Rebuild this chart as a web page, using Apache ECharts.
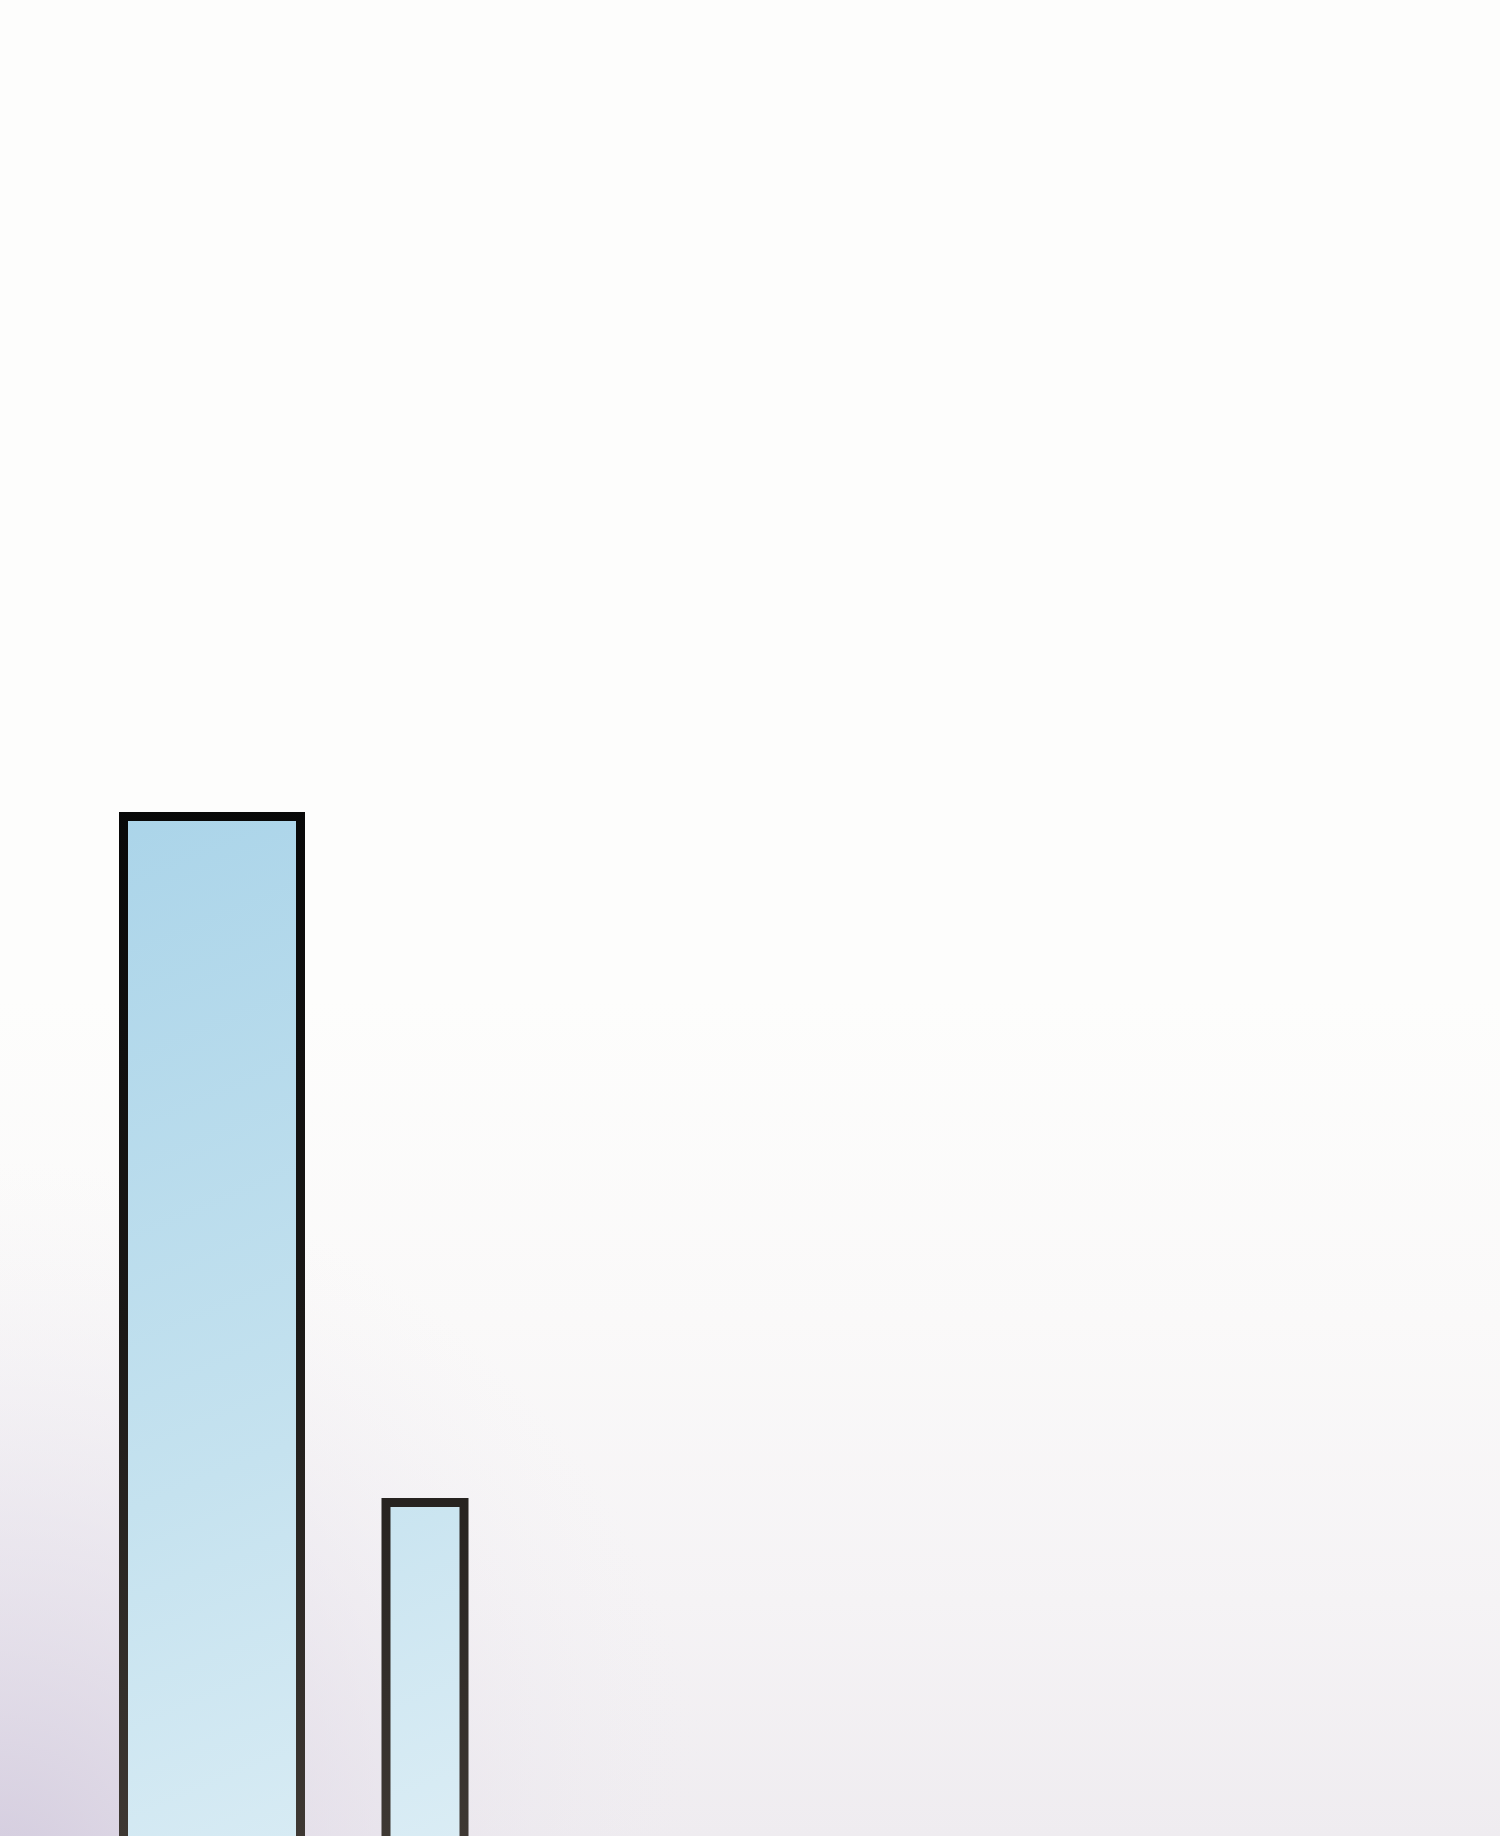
<!DOCTYPE html>
<html>
<head>
<meta charset="utf-8">
<script src="https://cdn.jsdelivr.net/npm/echarts@6/dist/echarts.min.js"></script>
<style>
html,body{margin:0;padding:0;background:#fdfdfc;overflow:hidden;}
#wrap{width:1500px;height:1836px;overflow:hidden;position:relative;}
#chart{width:1500px;height:2000px;}
</style>
</head>
<body>
<div id="wrap"><div id="chart"></div></div>
<script>
const categories = ['A', 'B'];
const seriesA = [59.4, '-'];
const seriesB = ['-', 25.1];

const chart = echarts.init(document.getElementById('chart'), null, {renderer: 'canvas'});
const G = echarts.graphic;
const fill = new G.LinearGradient(90, 800, 520, 1836, [
  {offset: 0, color: '#aad4e9'},
  {offset: 0.6, color: '#c5e2ef'},
  {offset: 1, color: '#dbedf5'}
], true);
const stroke = new G.LinearGradient(0, 800, 0, 1836, [
  {offset: 0, color: '#080808'},
  {offset: 0.5, color: '#1a1816'},
  {offset: 1, color: '#3e3833'}
], true);

const option = {
  backgroundColor: new G.LinearGradient(0, 0, 0, 2000, [
    {offset: 0, color: '#fdfdfc'},
    {offset: 0.5, color: '#fdfdfc'},
    {offset: 0.66, color: '#faf9f9'},
    {offset: 0.8, color: '#f5f3f5'},
    {offset: 0.918, color: '#efecf0'},
    {offset: 1, color: '#ece9ee'}
  ], true),
  animation: false,
  graphic: [{
    type: 'rect',
    silent: true,
    z: -10,
    shape: {x: 0, y: 1000, width: 1000, height: 1000},
    style: {
      fill: new G.RadialGradient(0, 1880, 720, [
        {offset: 0, color: 'rgba(208,200,220,0.9)'},
        {offset: 0.5, color: 'rgba(222,216,230,0.45)'},
        {offset: 1, color: 'rgba(240,238,242,0)'}
      ], true)
    }
  }],
  grid: {left: 105.5, right: 968.5, top: 0, bottom: 0, containLabel: false},
  xAxis: [
    {type: 'category', data: categories, show: false},
    {type: 'category', data: categories, show: false, position: 'bottom'}
  ],
  yAxis: {type: 'value', min: 0, max: 100, show: false},
  series: [
    {
      type: 'bar', xAxisIndex: 0, data: seriesA, barWidth: 186,
      itemStyle: {color: fill, borderColor: stroke, borderWidth: 9, borderJoin: 'miter'}
    },
    {
      type: 'bar', xAxisIndex: 1, data: seriesB, barWidth: 87,
      itemStyle: {color: fill, borderColor: stroke, borderWidth: 9, borderJoin: 'miter'}
    }
  ]
};
chart.setOption(option);
</script>
</body>
</html>
